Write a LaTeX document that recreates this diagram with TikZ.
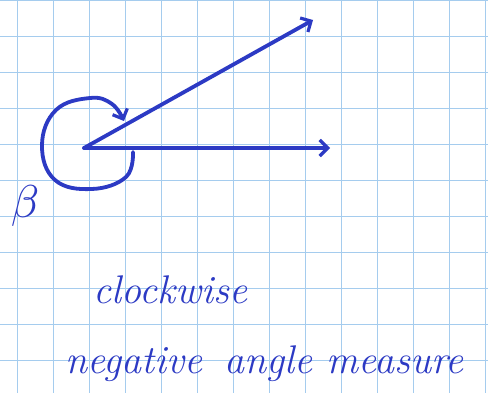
\documentclass[tikz,border=0pt]{standalone}
\usetikzlibrary{arrows.meta}
\definecolor{ink}{RGB}{44,58,196}
\definecolor{gridblue}{RGB}{165,204,238}
\begin{document}
\begin{tikzpicture}[x=1pt, y=-1pt, every node/.style={align=center, text=ink, inner sep=0pt},
    pen/.style={draw=ink, line width=3.8pt, line cap=round, line join=round},
    tip/.style={-{Straight Barb[length=8pt, width=16pt, line width=3.2pt]}},
    hand/.style={font=\fontsize{40}{44}\selectfont\itshape, anchor=base west}]
    \useasboundingbox (0,0) rectangle (488,393);
    \fill[white] (0,0) rectangle (488,393);
    \foreach \gx in {17.3,53.3,...,485.3} \draw[gridblue, line width=1.4pt] (\gx,0) -- (\gx,393);
    \foreach \gy in {0.7,36.7,...,360.7} \draw[gridblue, line width=1.4pt] (0,\gy) -- (488,\gy);

    \coordinate (O) at (84,148);
    \coordinate (initial) at (330,148);
    \coordinate (terminal) at (313,20);
    \draw[pen, tip] (O) -- (initial);
    \draw[pen, tip] (O) -- (terminal);

    \draw[pen, tip] plot[smooth, tension=0.7] coordinates
        {(133,152) (126,177) (92,189) (55,180) (42,145) (56,110) (90,98) (112,104) (124,121)};

    \node[scale=4.6] (beta) at (25,206) {$\beta$};

    \node[hand] (cw) at (93,303) {clockwise};
    \node[hand] (neg) at (65,373) {negative\hspace{8pt} angle measure};
\end{tikzpicture}
\end{document}
